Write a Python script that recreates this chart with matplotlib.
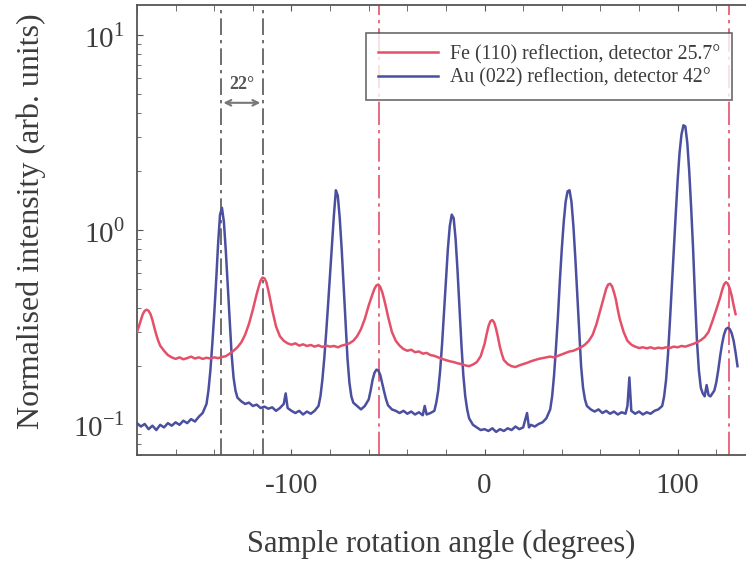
import matplotlib
matplotlib.use("Agg")
from matplotlib import pyplot as plt
from matplotlib.ticker import FixedLocator, MultipleLocator, LogLocator, NullFormatter

# Au (022) reflection, detector 42 deg
au_angle = [-180, -178, -176, -174, -172, -170, -168, -166, -164, -162, -160, -158, -156, -154,
            -152, -150, -148, -146, -144, -143, -142, -141, -140, -139, -138, -137, -136, -135,
            -134, -133, -132, -131, -130, -129, -128, -126, -124, -122, -120, -118, -116, -114,
            -112, -110, -108, -106, -104, -103, -102, -100, -98, -96, -94, -92, -90, -88, -86,
            -85, -84, -83, -82, -81, -80, -79, -78, -77, -76, -75, -74, -73, -72, -71, -70, -69,
            -68, -66, -64, -62, -60, -59, -58, -57, -56, -55, -54, -53, -52, -51, -50, -48, -46,
            -44, -42, -40, -38, -36, -34, -32, -31, -30, -28, -26, -25, -24, -23, -22, -21, -20,
            -19, -18, -17, -16, -15, -14, -13, -12, -11, -10, -9, -8, -6, -4, -2, 0, 2, 4, 6, 8,
            10, 12, 14, 16, 18, 20, 22, 23, 24, 26, 28, 30, 32, 34, 35, 36, 37, 38, 39, 40, 41,
            42, 43, 44, 45, 46, 47, 48, 49, 50, 51, 52, 53, 55, 57, 59, 61, 63, 65, 67, 69, 71,
            73, 74, 75, 76, 78, 80, 82, 84, 86, 88, 90, 92, 93, 94, 95, 96, 97, 98, 99, 100, 101,
            102, 103, 104, 105, 106, 107, 108, 109, 110, 111, 112, 113, 114, 115, 116, 117, 118,
            119, 120, 121, 122, 123, 124, 125, 126, 127, 128, 129, 130, 131]
au_val = [0.102, 0.098, 0.101, 0.095, 0.099, 0.094, 0.100, 0.097, 0.102, 0.099, 0.103, 0.100, 0.105, 0.102,
          0.107, 0.104, 0.110, 0.115, 0.128, 0.15, 0.19, 0.26, 0.37, 0.55, 0.85, 1.2, 1.3, 1.1,
          0.78, 0.52, 0.34, 0.23, 0.175, 0.15, 0.138, 0.132, 0.128, 0.130, 0.125, 0.127, 0.122, 0.124,
          0.121, 0.123, 0.118, 0.122, 0.128, 0.145, 0.122, 0.118, 0.115, 0.118, 0.113, 0.117, 0.114, 0.118, 0.125,
          0.14, 0.17, 0.22, 0.30, 0.42, 0.60, 0.85, 1.2, 1.6, 1.5, 1.15, 0.80, 0.52, 0.33, 0.22, 0.165, 0.14,
          0.13, 0.125, 0.12, 0.125, 0.135, 0.15, 0.17, 0.185, 0.192, 0.19, 0.18, 0.163, 0.148, 0.135, 0.126, 0.12, 0.118,
          0.115, 0.118, 0.114, 0.117, 0.113, 0.116, 0.112, 0.125, 0.113, 0.115, 0.118, 0.13, 0.15, 0.19, 0.26, 0.38, 0.55,
          0.80, 1.05, 1.2, 1.15, 0.90, 0.62, 0.40, 0.26, 0.18, 0.14, 0.12, 0.108, 0.100, 0.097, 0.094, 0.095, 0.093, 0.096, 0.092, 0.095,
          0.093, 0.096, 0.094, 0.098, 0.095, 0.097, 0.115, 0.097, 0.100, 0.098, 0.101, 0.103, 0.108, 0.12, 0.14, 0.18, 0.25, 0.36, 0.55, 0.80, 1.1,
          1.4, 1.58, 1.6, 1.4, 1.05, 0.72, 0.47, 0.30, 0.20, 0.155, 0.135, 0.125, 0.120, 0.117, 0.120, 0.115, 0.118, 0.114, 0.117, 0.113, 0.116,
          0.114, 0.125, 0.175, 0.118, 0.114, 0.117, 0.113, 0.116, 0.114, 0.118, 0.120, 0.125, 0.14, 0.17, 0.23, 0.34, 0.52, 0.80, 1.2, 1.8, 2.5,
          3.1, 3.45, 3.4, 2.8, 2.0, 1.3, 0.80, 0.45, 0.27, 0.19, 0.155, 0.145, 0.140, 0.160, 0.142, 0.140, 0.145,
          0.150, 0.165, 0.19, 0.225, 0.26, 0.29, 0.31, 0.315, 0.31, 0.295, 0.27, 0.235, 0.20]

# Fe (110) reflection, detector 25.7 deg
fe_angle = [-180, -179, -178, -177, -176, -175, -174, -173, -172, -171, -170, -169, -168, -166, -164,
            -162, -160, -158, -156, -154, -152, -150, -148, -146, -144, -142, -140, -138, -136, -134,
            -132, -130, -128, -126, -124, -122, -120, -118, -117, -116, -115, -114, -113, -112, -111,
            -110, -108, -106, -104, -102, -100, -98, -96, -94, -92, -90, -88, -86, -84, -82, -80, -78,
            -76, -74, -72, -70, -68, -66, -64, -62, -60, -58, -57, -56, -55, -54, -53, -52, -51, -50,
            -48, -46, -44, -42, -40, -38, -36, -34, -32, -30, -28, -26, -24, -22, -20, -18, -16, -14,
            -12, -10, -8, -6, -4, -2, 0, 1, 2, 3, 4, 5, 6, 7, 8, 9, 10, 12, 14, 16, 18, 20, 22, 24, 26,
            28, 30, 32, 34, 36, 38, 40, 42, 44, 46, 48, 50, 52, 54, 56, 58, 60, 62, 63, 64, 65, 66, 67,
            68, 69, 70, 72, 74, 76, 78, 80, 82, 84, 86, 88, 90, 92, 94, 96, 98, 100, 102, 104, 106, 108,
            110, 112, 114, 116, 118, 120, 122, 123, 124, 125, 126, 127, 128, 129, 130]
fe_val = [0.30, 0.32, 0.345, 0.37, 0.385, 0.39, 0.385, 0.37, 0.345, 0.315, 0.29, 0.27, 0.255, 0.24, 0.228,
          0.222, 0.218, 0.222, 0.217, 0.220, 0.224, 0.219, 0.222, 0.218, 0.221, 0.219, 0.222, 0.220, 0.223, 0.225,
          0.232, 0.240, 0.250, 0.265, 0.29, 0.33, 0.39, 0.47, 0.51, 0.55, 0.57, 0.565, 0.54, 0.49, 0.44,
          0.39, 0.32, 0.285, 0.27, 0.262, 0.258, 0.262, 0.255, 0.259, 0.254, 0.257, 0.252, 0.256, 0.251, 0.255, 0.252, 0.254,
          0.250, 0.255, 0.258, 0.262, 0.270, 0.285, 0.31, 0.35, 0.41, 0.47, 0.50, 0.52, 0.525, 0.51, 0.48, 0.44, 0.40, 0.36,
          0.30, 0.27, 0.255, 0.245, 0.240, 0.243, 0.236, 0.238, 0.232, 0.234, 0.228, 0.226, 0.222, 0.218, 0.215, 0.212, 0.210, 0.207,
          0.205, 0.202, 0.200, 0.204, 0.210, 0.225, 0.26, 0.29, 0.32, 0.34, 0.345, 0.335, 0.31, 0.28, 0.25, 0.23, 0.215, 0.205, 0.200, 0.198, 0.202, 0.205, 0.208, 0.212, 0.215,
          0.218, 0.220, 0.222, 0.224, 0.222, 0.226, 0.230, 0.234, 0.238, 0.240, 0.245, 0.250, 0.258, 0.270, 0.29, 0.33, 0.39, 0.46, 0.50, 0.525, 0.53, 0.515, 0.48,
          0.44, 0.39, 0.35, 0.30, 0.27, 0.258, 0.252, 0.248, 0.250, 0.247, 0.250, 0.246, 0.249, 0.247, 0.250, 0.248, 0.252, 0.250, 0.254, 0.252, 0.256, 0.260,
          0.265, 0.272, 0.282, 0.30, 0.34, 0.39, 0.45, 0.49, 0.525, 0.54, 0.53, 0.50, 0.46, 0.41, 0.37]

red_lines = [-54.8, 126.6]
black_lines = [-136.7, -114.7]

red = '#e4506a'
blue = '#4a4f9f'
grey = '#3c3c3c'

plt.rcParams['font.family'] = 'Liberation Serif'
plt.rcParams['mathtext.fontset'] = 'custom'
plt.rcParams['mathtext.rm'] = 'Liberation Serif'
plt.rcParams['axes.unicode_minus'] = False

fig = plt.figure(figsize=(7.46, 5.66), dpi=100)
ax = fig.add_axes([137 / 746, 111 / 566, 609 / 746, 450 / 566])

for x in red_lines:
    ax.axvline(x, color=red, lw=1.2, dashes=(14, 3, 2, 3), zorder=1)
for x in black_lines:
    ax.axvline(x, color='#555555', lw=1.2, dashes=(10, 3, 2, 3), zorder=1)

ax.plot(fe_angle, fe_val, color=red, lw=1.8, label='Fe (110) reflection, detector 25.7°', zorder=3)
ax.plot(au_angle, au_val, color=blue, lw=1.8, label='Au (022) reflection, detector 42°', zorder=2)

ax.set_yscale('log')
ax.set_xlim(-180, 135.4)
ax.set_ylim(0.07, 14.3)

ax.xaxis.set_major_locator(FixedLocator([-100, 0, 100]))
ax.xaxis.set_minor_locator(MultipleLocator(20))
ax.yaxis.set_major_locator(FixedLocator([0.1, 1, 10]))
ax.yaxis.set_minor_locator(LogLocator(subs=range(2, 10)))
ax.yaxis.set_minor_formatter(NullFormatter())
ax.set_yticklabels(['$10^{-1}$', '$10^{0}$', '$10^{1}$'])
ax.tick_params(which='both', direction='in', top=True, right=False, color='#555555',
               labelsize=21, labelcolor=grey)
ax.tick_params(axis='x', which='both', pad=13)
ax.tick_params(axis='y', which='both', pad=9)
ax.tick_params(which='major', length=4)
ax.tick_params(which='minor', length=3)
ax.tick_params(axis='x', which='minor', length=4)

for s in ['left', 'bottom', 'top']:
    ax.spines[s].set_color('#555555')
    ax.spines[s].set_linewidth(1.3)
ax.spines['right'].set_visible(False)

ax.set_xlabel('Sample rotation angle (degrees)', fontsize=22, color=grey, labelpad=22)
ax.set_ylabel('Normalised intensity (arb. units)', fontsize=23, color=grey)
ax.yaxis.set_label_coords(-0.15, 0.52)

ax.annotate('', xy=(black_lines[0], 4.5), xytext=(black_lines[1], 4.5),
            arrowprops=dict(arrowstyle='<->', color='#777777', lw=1.5))
ax.text(sum(black_lines) / 2, 5.6, '22°', ha='center', va='center', fontsize=13,
        fontweight='bold', color='#555555')

leg = ax.legend(loc='upper right', bbox_to_anchor=(0.977, 0.938), borderaxespad=0,
                fontsize=14.3, frameon=True, fancybox=False, handlelength=3.0,
                handletextpad=0.6, labelspacing=0.2, borderpad=0.6)
leg.get_frame().set_edgecolor('#444444')
leg.get_frame().set_linewidth(1.2)
for t in leg.get_texts():
    t.set_color(grey)

fig.savefig('out.png', dpi=100)
